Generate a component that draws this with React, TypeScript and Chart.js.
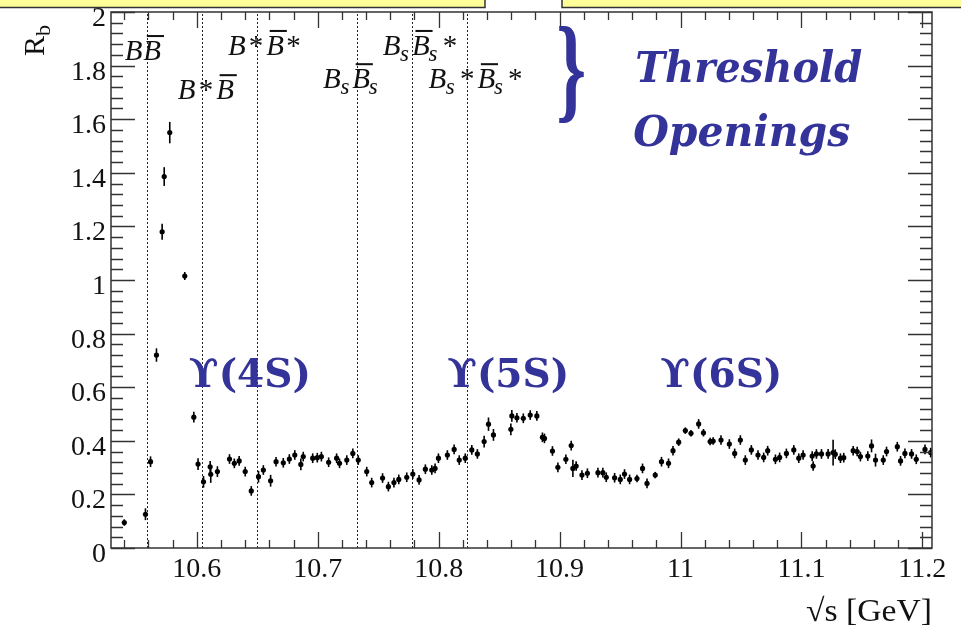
import { useEffect, useRef } from 'react';
import { Chart, registerables } from 'chart.js';

Chart.register(...registerables);

// Centre-of-mass energy scan: sqrt(s) in GeV
const energies = [
  10.540, 10.5575, 10.5617, 10.5666, 10.5713, 10.573, 10.5776, 10.590, 10.5975, 10.601,
  10.6055, 10.611, 10.6115, 10.617, 10.627, 10.631, 10.635, 10.640, 10.645, 10.651,
  10.655, 10.661, 10.6655, 10.6715, 10.6765, 10.681, 10.686, 10.688, 10.6958, 10.6996,
  10.703, 10.709, 10.7156, 10.718, 10.724, 10.729, 10.7335, 10.7405, 10.7446, 10.7536,
  10.7584, 10.763, 10.767, 10.7736, 10.7786, 10.7838, 10.789, 10.7943, 10.797, 10.7998,
  10.8072, 10.8128, 10.817, 10.822, 10.8274, 10.832, 10.8376, 10.8412, 10.8453, 10.8597,
  10.8605, 10.8647, 10.870, 10.8757, 10.8812, 10.8858, 10.8875, 10.8941, 10.8986, 10.9052,
  10.9096, 10.911, 10.9137, 10.9185, 10.923, 10.9317, 10.9358, 10.9386, 10.9455, 10.9502,
  10.9537, 10.9579, 10.964, 10.9686, 10.9723, 10.9791, 10.9843, 10.9901, 10.9938, 10.9985,
  11.004, 11.0087, 11.015, 11.019, 11.0245, 11.027, 11.0335, 11.0404, 11.0448, 11.0495,
  11.0536, 11.0586, 11.0641, 11.0688, 11.0721, 11.0785, 11.082, 11.0876, 11.0937, 11.0978,
  11.1014, 11.1089, 11.1097, 11.1124, 11.1166, 11.1221, 11.1262, 11.128, 11.1323, 11.135,
  11.1428, 11.1461, 11.1488, 11.1549, 11.158, 11.1613, 11.1677, 11.1704, 11.1793, 11.182,
  11.1856, 11.1911, 11.195, 11.2022, 11.2069,
];

// R_b measured at each energy
const rbValues = [
  0.095, 0.126, 0.322, 0.720, 1.180, 1.386, 1.550, 1.015, 0.488, 0.313,
  0.247, 0.303, 0.275, 0.285, 0.332, 0.316, 0.325, 0.285, 0.213, 0.266,
  0.291, 0.251, 0.322, 0.318, 0.332, 0.347, 0.312, 0.341, 0.335, 0.337,
  0.341, 0.320, 0.335, 0.316, 0.328, 0.353, 0.328, 0.285, 0.244, 0.261,
  0.229, 0.244, 0.256, 0.264, 0.276, 0.254, 0.294, 0.291, 0.297, 0.335,
  0.347, 0.368, 0.328, 0.335, 0.366, 0.351, 0.397, 0.462, 0.422, 0.443,
  0.493, 0.486, 0.484, 0.496, 0.493, 0.413, 0.409, 0.362, 0.301, 0.331,
  0.382, 0.297, 0.306, 0.272, 0.279, 0.281, 0.281, 0.264, 0.262, 0.256,
  0.276, 0.256, 0.259, 0.297, 0.241, 0.272, 0.322, 0.316, 0.363, 0.395,
  0.438, 0.428, 0.463, 0.430, 0.397, 0.399, 0.403, 0.388, 0.353, 0.403,
  0.328, 0.366, 0.347, 0.338, 0.363, 0.331, 0.338, 0.353, 0.366, 0.335,
  0.347, 0.343, 0.306, 0.351, 0.351, 0.351, 0.356, 0.350, 0.335, 0.337,
  0.363, 0.360, 0.341, 0.343, 0.381, 0.328, 0.328, 0.360, 0.378, 0.325,
  0.353, 0.351, 0.331, 0.368, 0.356,
];

// Statistical uncertainty on R_b
const rbErrors = [
  0.012, 0.022, 0.020, 0.025, 0.030, 0.035, 0.040, 0.015, 0.020, 0.022,
  0.022, 0.022, 0.032, 0.020, 0.018, 0.018, 0.018, 0.018, 0.018, 0.022,
  0.018, 0.022, 0.018, 0.018, 0.018, 0.018, 0.022, 0.018, 0.018, 0.018,
  0.018, 0.018, 0.018, 0.018, 0.018, 0.018, 0.018, 0.018, 0.018, 0.018,
  0.018, 0.018, 0.018, 0.018, 0.018, 0.018, 0.018, 0.018, 0.018, 0.018,
  0.018, 0.018, 0.018, 0.018, 0.018, 0.018, 0.022, 0.025, 0.022, 0.022,
  0.022, 0.018, 0.018, 0.018, 0.018, 0.018, 0.018, 0.018, 0.018, 0.018,
  0.018, 0.032, 0.018, 0.018, 0.018, 0.018, 0.018, 0.018, 0.018, 0.018,
  0.018, 0.018, 0.014, 0.018, 0.018, 0.012, 0.018, 0.018, 0.018, 0.014,
  0.012, 0.012, 0.018, 0.014, 0.014, 0.014, 0.018, 0.018, 0.018, 0.018,
  0.018, 0.018, 0.018, 0.018, 0.018, 0.018, 0.018, 0.018, 0.018, 0.018,
  0.018, 0.018, 0.018, 0.018, 0.018, 0.018, 0.048, 0.018, 0.018, 0.018,
  0.018, 0.018, 0.018, 0.018, 0.024, 0.024, 0.018, 0.018, 0.018, 0.018,
  0.018, 0.018, 0.018, 0.018, 0.018,
];

// Open-flavour thresholds (GeV) and their labels: ~ = overline, _ = subscript
const thresholds = [10.5584, 10.6039, 10.6499, 10.7322, 10.7777, 10.8233];
const thresholdNames = ['B~B', 'B*~B', 'B*~B*', 'B_s~B_s', 'B_s~B_s*', 'B_s*~B_s*'];

const resonanceNames = ['\u03D2(4S)', '\u03D2(5S)', '\u03D2(6S)'];

const xTicks = [10.6, 10.7, 10.8, 10.9, 11.0, 11.1, 11.2];
const xTickLabels = ['10.6', '10.7', '10.8', '10.9', '11', '11.1', '11.2'];
const yTicks = [0, 0.2, 0.4, 0.6, 0.8, 1, 1.2, 1.4, 1.6, 1.8, 2];
const yTickLabels = ['0', '0.2', '0.4', '0.6', '0.8', '1', '1.2', '1.4', '1.6', '1.8', '2'];

const X_MIN = 10.529;
const X_MAX = 11.208;
const Y_MIN = 0;
const Y_MAX = 2;

const SERIF = '"Liberation Serif", "Times New Roman", serif';
const BLUE = '#333399';

type Ctx = CanvasRenderingContext2D;

// Render a small math-like label: italic letters, ~ overline, _ subscript, * star
function drawMathLabel(ctx: Ctx, src: string, x: number, baseline: number, size: number) {
  let cx = x;
  let i = 0;
  while (i < src.length) {
    const ch = src[i];
    if (ch === '~') {
      const letter = src[i + 1];
      ctx.font = `italic ${size}px ${SERIF}`;
      const w = ctx.measureText(letter).width;
      ctx.fillText(letter, cx, baseline);
      ctx.fillRect(cx + size * 0.12, baseline - size * 0.86, w - size * 0.02, size * 0.07);
      cx += w;
      i += 2;
    } else if (ch === '_') {
      const letter = src[i + 1];
      ctx.font = `italic ${Math.round(size * 0.78)}px ${SERIF}`;
      ctx.fillText(letter, cx - size * 0.04, baseline + size * 0.2);
      cx += ctx.measureText(letter).width + size * 0.06;
      i += 2;
    } else if (ch === '*') {
      ctx.font = `${size}px ${SERIF}`;
      cx += size * 0.08;
      ctx.fillText('*', cx, baseline);
      cx += ctx.measureText('*').width + size * 0.1;
      i += 1;
    } else {
      ctx.font = `italic ${size}px ${SERIF}`;
      ctx.fillText(ch, cx, baseline);
      cx += ctx.measureText(ch).width + size * 0.03;
      i += 1;
    }
  }
}

// Draw text squeezed or stretched horizontally to a given width
function fitText(ctx: Ctx, text: string, x: number, y: number, width: number) {
  const w = ctx.measureText(text).width;
  ctx.save();
  ctx.translate(x, y);
  ctx.scale(width / w, 1);
  ctx.fillText(text, 0, 0);
  ctx.restore();
}

const rootStylePlugin = {
  id: 'rootStyle',
  beforeDatasetsDraw(chart: any) {
    const { ctx, chartArea: a, scales } = chart;
    const xs = scales.x;
    const ys = scales.y;
    ctx.save();
    // dotted threshold lines
    ctx.strokeStyle = '#222';
    ctx.lineWidth = 1;
    ctx.setLineDash([2, 2]);
    thresholds.forEach((t) => {
      const px = Math.round(xs.getPixelForValue(t)) + 0.5;
      ctx.beginPath();
      ctx.moveTo(px, a.bottom);
      ctx.lineTo(px, a.top);
      ctx.stroke();
    });
    ctx.setLineDash([]);
    // vertical error bars
    ctx.strokeStyle = '#000';
    ctx.lineWidth = 1.6;
    energies.forEach((e, k) => {
      const px = xs.getPixelForValue(e);
      ctx.beginPath();
      ctx.moveTo(px, ys.getPixelForValue(rbValues[k] - rbErrors[k]));
      ctx.lineTo(px, ys.getPixelForValue(rbValues[k] + rbErrors[k]));
      ctx.stroke();
    });
    ctx.restore();
  },
  afterDraw(chart: any) {
    const { ctx, chartArea: a, scales } = chart;
    const xs = scales.x;
    const ys = scales.y;
    ctx.save();

    // frame
    ctx.strokeStyle = '#333';
    ctx.lineWidth = 1.5;
    ctx.strokeRect(a.left, a.top, a.right - a.left, a.bottom - a.top);

    // inward ticks on all four sides
    ctx.lineWidth = 1.3;
    ctx.strokeStyle = '#333';
    ctx.beginPath();
    for (let i = 520; i <= 570; i++) {
      const v = i / 50;
      if (v < X_MIN || v > X_MAX) continue;
      const px = Math.round(xs.getPixelForValue(v)) + 0.5;
      const len = i % 5 === 0 ? 16 : 8;
      ctx.moveTo(px, a.bottom);
      ctx.lineTo(px, a.bottom - len);
      ctx.moveTo(px, a.top);
      ctx.lineTo(px, a.top + len);
    }
    for (let i = 0; i <= 50; i++) {
      const v = i / 25;
      const py = Math.round(ys.getPixelForValue(v)) + 0.5;
      const len = i % 5 === 0 ? 24 : 12;
      ctx.moveTo(a.left, py);
      ctx.lineTo(a.left + len, py);
      ctx.moveTo(a.right, py);
      ctx.lineTo(a.right - len, py);
    }
    ctx.stroke();

    // tick labels
    ctx.fillStyle = '#111';
    ctx.font = `28px ${SERIF}`;
    ctx.textBaseline = 'alphabetic';
    ctx.textAlign = 'center';
    xTicks.forEach((v, k) => {
      ctx.fillText(xTickLabels[k], xs.getPixelForValue(v), a.bottom + 29);
    });
    ctx.textAlign = 'right';
    yTicks.forEach((v, k) => {
      ctx.fillText(yTickLabels[k], a.left - 5, ys.getPixelForValue(v) + 14);
    });

    // axis titles
    ctx.textAlign = 'left';
    ctx.font = `32px ${SERIF}`;
    fitText(ctx, '\u221As [GeV]', 806, 621, 126);
    ctx.save();
    ctx.translate(44, 56);
    ctx.rotate(-Math.PI / 2);
    ctx.textAlign = 'left';
    ctx.font = `30px ${SERIF}`;
    ctx.fillText('R', 0, 0);
    const rw = ctx.measureText('R').width;
    ctx.font = `22px ${SERIF}`;
    ctx.fillText('b', rw, 6);
    ctx.restore();

    // threshold labels
    ctx.textAlign = 'left';
    ctx.fillStyle = '#111';
    const labelPos = [
      [10.5404, 1.821],
      [10.5843, 1.675],
      [10.6257, 1.840],
      [10.7043, 1.716],
      [10.7537, 1.840],
      [10.7915, 1.716],
    ];
    thresholdNames.forEach((name, k) => {
      drawMathLabel(ctx, name, xs.getPixelForValue(labelPos[k][0]), ys.getPixelForValue(labelPos[k][1]), 29);
    });

    // resonance labels
    ctx.fillStyle = BLUE;
    ctx.font = `bold 39px "DejaVu Serif", serif`;
    const resPos = [10.5934, 10.807, 10.9833];
    resonanceNames.forEach((name, k) => {
      ctx.fillText(name, xs.getPixelForValue(resPos[k]), ys.getPixelForValue(0.6));
    });

    // brace and caption
    ctx.save();
    ctx.translate(xs.getPixelForValue(10.9096), ys.getPixelForValue(1.644));
    ctx.scale(0.95, 1.45);
    ctx.textAlign = 'center';
    ctx.font = `bold 80px ${SERIF}`;
    ctx.fillText('}', 0, 0);
    ctx.restore();
    ctx.font = `italic bold 42px "DejaVu Serif", serif`;
    ctx.textAlign = 'left';
    fitText(ctx, 'Threshold', xs.getPixelForValue(10.9626), ys.getPixelForValue(1.739), 227);
    fitText(ctx, 'Openings', xs.getPixelForValue(10.9609), ys.getPixelForValue(1.5), 217);

    ctx.restore();

    // slide panels cut off along the top edge
    ctx.save();
    ctx.fillStyle = '#FFFF99';
    ctx.strokeStyle = '#333';
    ctx.lineWidth = 1.5;
    ctx.fillRect(-5, -5, 490, 12.5);
    ctx.strokeRect(-5, -5, 490, 12.5);
    ctx.fillRect(562, -5, 410, 12.5);
    ctx.strokeRect(562, -5, 410, 12.5);
    ctx.restore();
  },
};

export default function App() {
  const canvasRef = useRef<HTMLCanvasElement | null>(null);

  useEffect(() => {
    const canvas = canvasRef.current;
    if (!canvas) return;
    const points = energies.map((e, k) => ({ x: e, y: rbValues[k] }));
    const chart = new Chart(canvas, {
      type: 'scatter',
      data: {
        datasets: [
          {
            label: 'R_b',
            data: points,
            pointRadius: 2.6,
            pointHoverRadius: 2.6,
            pointBackgroundColor: '#000',
            pointBorderWidth: 0,
            showLine: false,
          },
        ],
      },
      options: {
        animation: false,
        responsive: false,
        devicePixelRatio: 1,
        layout: { padding: { left: 111, right: 29, top: 12, bottom: 82 } },
        plugins: {
          legend: { display: false },
          tooltip: { enabled: false },
        },
        scales: {
          x: { type: 'linear', min: X_MIN, max: X_MAX, display: false },
          y: { type: 'linear', min: Y_MIN, max: Y_MAX, display: false },
        },
      },
      plugins: [rootStylePlugin],
    });
    return () => chart.destroy();
  }, []);

  return (
    <div style={{ position: 'absolute', left: 0, top: 0, width: 961, height: 630, background: '#fff' }}>
      <canvas ref={canvasRef} width={961} height={630} style={{ display: 'block' }} />
    </div>
  );
}
